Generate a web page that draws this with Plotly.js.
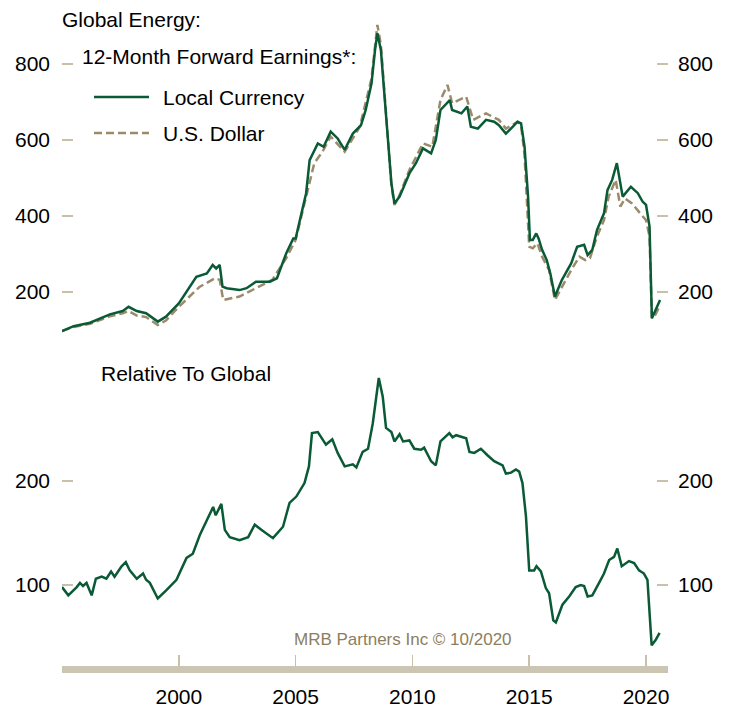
<!DOCTYPE html>
<html>
<head>
<meta charset="utf-8">
<script src="https://cdn.plot.ly/plotly-3.0.1.min.js"></script>
<style>html,body{margin:0;padding:0;background:#fff;}#chart{width:733px;height:709px;}</style>
</head>
<body>
<div id="chart"></div>
<script>
// ---- Data ----
const localDates = [1995.0,1995.5,1996.2,1997.05,1997.6,1997.85,1998.2,1998.6,1999.1,1999.45,2000.0,2000.75,2001.2,2001.45,2001.6,2001.75,2001.87,2002.05,2002.6,2002.9,2003.3,2003.9,2004.2,2004.6,2004.9,2005.0,2005.3,2005.45,2005.6,2005.75,2005.95,2006.2,2006.5,2006.8,2007.1,2007.45,2007.8,2008.0,2008.25,2008.4,2008.5,2008.65,2008.87,2009.1,2009.23,2009.45,2009.87,2010.15,2010.45,2010.8,2011.0,2011.2,2011.6,2011.7,2012.1,2012.35,2012.5,2012.8,2013.15,2013.5,2013.7,2014.0,2014.3,2014.5,2014.65,2014.8,2014.95,2015.03,2015.15,2015.3,2015.4,2015.55,2015.75,2015.9,2016.1,2016.4,2016.8,2017.05,2017.35,2017.5,2017.7,2017.9,2018.2,2018.35,2018.55,2018.75,2019.0,2019.35,2019.65,2019.85,2020.0,2020.15,2020.25,2020.4,2020.6];
const localCurrency = [97,110,119,141,150,161,150,144,122,135,170,240,249,271,262,271,214,210,205,210,227,227,236,302,341,341,420,460,547,565,591,582,622,604,574,617,639,679,749,837,881,837,661,486,433,451,512,539,578,565,600,679,705,679,670,688,635,630,653,648,639,617,635,648,644,582,451,337,337,354,341,311,284,249,188,232,276,319,324,297,311,363,407,468,495,539,451,477,460,438,429,372,131,153,179];

const usdDates = [1995.0,1995.5,1996.2,1997.05,1997.6,1997.85,1998.2,1998.6,1999.1,1999.45,2000.0,2000.9,2001.55,2001.75,2001.9,2002.6,2003.3,2004.0,2004.6,2005.0,2005.45,2005.8,2006.15,2006.5,2007.1,2007.75,2008.25,2008.5,2008.65,2008.87,2009.1,2009.23,2009.45,2009.87,2010.45,2010.85,2011.2,2011.5,2011.7,2012.3,2012.6,2012.85,2013.15,2013.7,2014.0,2014.5,2014.65,2014.8,2015.0,2015.15,2015.35,2015.55,2015.85,2016.1,2016.4,2016.8,2017.15,2017.4,2017.6,2017.9,2018.2,2018.4,2018.7,2018.9,2019.1,2019.4,2019.75,2020.0,2020.15,2020.25,2020.4,2020.6];
const usDollar = [97,108,116,136,144,150,138,134,113,125,161,214,236,232,179,188,210,232,289,337,451,539,569,609,569,635,762,903,850,670,480,429,455,521,591,582,705,745,697,714,653,661,670,653,630,648,640,560,319,315,328,293,258,179,214,258,293,284,289,346,389,451,495,425,446,433,407,389,346,131,140,166];

const relDates = [1995.0,1995.27,1995.63,1995.77,1995.9,1996.05,1996.27,1996.45,1996.7,1996.9,1997.1,1997.25,1997.55,1997.73,1997.9,1998.2,1998.47,1998.6,1998.76,1999.1,1999.47,1999.9,2000.33,2000.6,2000.9,2001.25,2001.47,2001.58,2001.82,2001.97,2002.18,2002.6,2002.97,2003.25,2003.53,2004.03,2004.46,2004.74,2005.03,2005.38,2005.57,2005.7,2005.95,2006.3,2006.57,2006.8,2007.1,2007.45,2007.6,2007.87,2008.1,2008.3,2008.56,2008.73,2008.87,2009.1,2009.23,2009.45,2009.6,2009.87,2010.08,2010.37,2010.5,2010.8,2011.0,2011.2,2011.58,2011.72,2011.87,2012.3,2012.44,2012.65,2012.93,2013.2,2013.5,2013.86,2014.0,2014.22,2014.43,2014.57,2014.71,2014.86,2015.0,2015.21,2015.31,2015.5,2015.71,2015.85,2016.03,2016.14,2016.42,2016.71,2016.99,2017.2,2017.35,2017.5,2017.7,2017.99,2018.2,2018.42,2018.63,2018.77,2018.96,2019.27,2019.49,2019.7,2019.91,2020.06,2020.24,2020.41,2020.58];
const relativeToGlobal = [98,90,98,102,99,102,90,106,108,106,113,108,118,122,114,106,111,105,102,87,95,105,126,130,148,164,175,167,178,153,146,143,146,158,153,145,156,179,185,198,214,246,247,235,240,227,214,216,213,228,231,255,299,281,251,247,238,245,238,239,231,230,232,219,215,238,246,242,244,241,228,227,231,225,219,215,207,208,211,209,198,166,114,114,118,113,97,92,66,64,81,89,98,100,99,89,90,102,111,124,127,135,118,123,121,114,111,105,42,47,54];

const yearTicks = [1995,2000,2005,2010,2015,2020];
const yearLabels = ['', '2000','2005','2010','2015','2020'];
const topTicks = [200,400,600,800];
const bottomTicks = [100,200];

// ---- Styling ----
const W = 733, H = 709;
const px = x => x / W;
const py = y => 1 - y / H;
const GREEN = '#0a5a36';
const TAN = '#9b8b6b';
const TICK = '#c9c0aa';
const FONT = 'Liberation Sans, Arial, sans-serif';

const xDomain = [px(62), px(668)];
const topDomain = [py(345), py(20)];
const botDomain = [py(666), py(365)];
const topRange = [60.5, 915.8];
const botRange = [22.1, 311.5];

const traces = [
  {x: usdDates, y: usDollar, xaxis: 'x2', yaxis: 'y', type: 'scatter', mode: 'lines',
   line: {color: TAN, width: 2.5, dash: '8px,4px'}, hoverinfo: 'skip'},
  {x: localDates, y: localCurrency, xaxis: 'x2', yaxis: 'y', type: 'scatter', mode: 'lines',
   line: {color: GREEN, width: 2.5}, hoverinfo: 'skip'},
  {x: localDates, y: localCurrency, xaxis: 'x2', yaxis: 'y2', type: 'scatter', mode: 'lines',
   line: {color: 'rgba(0,0,0,0)', width: 0}, hoverinfo: 'skip'},
  {x: relDates, y: relativeToGlobal, xaxis: 'x', yaxis: 'y3', type: 'scatter', mode: 'lines',
   line: {color: GREEN, width: 2.5}, hoverinfo: 'skip'},
  {x: relDates, y: relativeToGlobal, xaxis: 'x', yaxis: 'y4', type: 'scatter', mode: 'lines',
   line: {color: 'rgba(0,0,0,0)', width: 0}, hoverinfo: 'skip'}
];

const yCommon = {
  showgrid: false, zeroline: false, showline: false,
  ticks: 'inside', ticklen: 11, tickwidth: 1.5, tickcolor: TICK,
  tickfont: {family: FONT, size: 21, color: '#000'},
  fixedrange: true
};

const layout = {
  width: W, height: H,
  margin: {l: 0, r: 0, t: 0, b: 0},
  paper_bgcolor: '#fff', plot_bgcolor: 'rgba(0,0,0,0)',
  showlegend: false,
  xaxis: {
    domain: xDomain, range: [1995, 2020.94], anchor: 'y3',
    showgrid: false, zeroline: false,
    showline: true, linewidth: 7, linecolor: '#cdc5b3',
    ticks: 'inside', ticklen: 11, tickwidth: 1.5, tickcolor: TICK,
    tickvals: yearTicks, ticktext: yearLabels,
    tickfont: {family: FONT, size: 21, color: '#000'},
    ticklabelstandoff: 6
  },
  xaxis2: {domain: xDomain, range: [1995, 2020.94], anchor: 'y', visible: false, matches: 'x'},
  yaxis: Object.assign({}, yCommon, {domain: topDomain, range: topRange, anchor: 'x2', side: 'left',
    tickvals: topTicks, ticklabelstandoff: 11}),
  yaxis2: Object.assign({}, yCommon, {domain: topDomain, range: topRange, anchor: 'x2', side: 'right',
    overlaying: 'y', tickvals: topTicks, ticklabelstandoff: 9}),
  yaxis3: Object.assign({}, yCommon, {domain: botDomain, range: botRange, anchor: 'x', side: 'left',
    tickvals: bottomTicks, ticklabelstandoff: 11}),
  yaxis4: Object.assign({}, yCommon, {domain: botDomain, range: botRange, anchor: 'x', side: 'right',
    overlaying: 'y3', tickvals: bottomTicks, ticklabelstandoff: 9}),
  shapes: [
    {type: 'line', xref: 'paper', yref: 'paper', x0: px(94), x1: px(149), y0: py(97), y1: py(97),
     line: {color: GREEN, width: 2.5}},
    {type: 'line', xref: 'paper', yref: 'paper', x0: px(94), x1: px(149), y0: py(133), y1: py(133),
     line: {color: TAN, width: 2.5, dash: '8px,4px'}}
  ],
  annotations: [
    {text: 'Global Energy:', x: px(60), y: py(20)},
    {text: '12-Month Forward Earnings*:', x: px(80), y: py(57)},
    {text: 'Local Currency', x: px(161), y: py(97)},
    {text: 'U.S. Dollar', x: px(161), y: py(133)},
    {text: 'Relative To Global', x: px(99), y: py(374)},
    {text: 'MRB Partners Inc © 10/2020', x: px(292), y: py(639), font: {family: FONT, size: 17, color: '#8b7e60'}}
  ].map(a => Object.assign({xref: 'paper', yref: 'paper', xanchor: 'left', yanchor: 'middle',
      showarrow: false, font: {family: FONT, size: 21, color: '#000'}}, a))
};

Plotly.newPlot('chart', traces, layout, {staticPlot: true, displayModeBar: false});
</script>
</body>
</html>
